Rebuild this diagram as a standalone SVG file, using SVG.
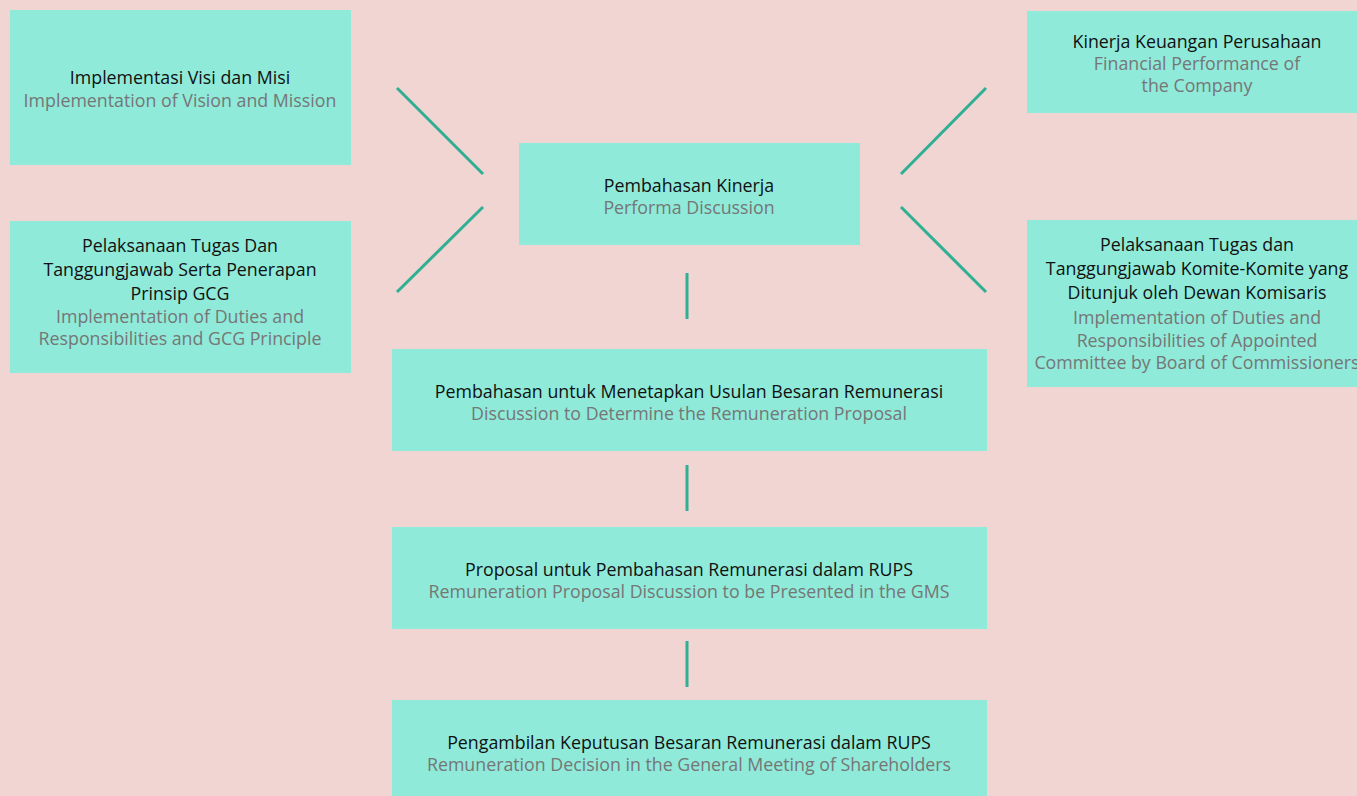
<svg xmlns="http://www.w3.org/2000/svg" width="1357" height="796" viewBox="0 0 1357 796">
<style>
.bx{fill:#8FEAD9}
.t{font-family:"Open Sans",Lato,sans-serif;font-size:17.8px;text-anchor:middle}
.p{fill:#111}
.s{fill:#767676}
.c line{stroke:#2FAF94;stroke-width:3}
</style>
<rect width="1357" height="796" fill="#F0D5D2"/>
<g class="c" id="connectors">
<line x1="397" y1="88" x2="483" y2="174"/>
<line x1="483" y1="207" x2="397" y2="292"/>
<line x1="986" y1="88" x2="901" y2="174"/>
<line x1="901" y1="207" x2="986" y2="292"/>
<line x1="687" y1="273" x2="687" y2="319"/>
<line x1="687" y1="465" x2="687" y2="511"/>
<line x1="687" y1="641" x2="687" y2="687"/>
</g>
<g id="n1"><rect class="bx" x="10" y="10" width="341" height="155"/>
<text class="t p" x="180" y="84">Implementasi Visi dan Misi</text>
<text class="t s" x="180" y="107">Implementation of Vision and Mission</text></g>
<g id="n2"><rect class="bx" x="10" y="221" width="341" height="152"/>
<text class="t p" x="180" y="252">Pelaksanaan Tugas Dan</text>
<text class="t p" x="180" y="276">Tanggungjawab Serta Penerapan</text>
<text class="t p" x="180" y="300">Prinsip GCG</text>
<text class="t s" x="180" y="323">Implementation of Duties and</text>
<text class="t s" x="180" y="345">Responsibilities and GCG Principle</text></g>
<g id="n3"><rect class="bx" x="1027" y="11" width="340" height="102"/>
<text class="t p" x="1197" y="48">Kinerja Keuangan Perusahaan</text>
<text class="t s" x="1197" y="70">Financial Performance of</text>
<text class="t s" x="1197" y="92">the Company</text></g>
<g id="n4"><rect class="bx" x="1027" y="220" width="340" height="167"/>
<text class="t p" x="1197" y="251">Pelaksanaan Tugas dan</text>
<text class="t p" x="1197" y="275">Tanggungjawab Komite-Komite yang</text>
<text class="t p" x="1197" y="299">Ditunjuk oleh Dewan Komisaris</text>
<text class="t s" x="1197" y="324">Implementation of Duties and</text>
<text class="t s" x="1197" y="347">Responsibilities of Appointed</text>
<text class="t s" x="1197" y="369">Committee by Board of Commissioners</text></g>
<g id="n5"><rect class="bx" x="519" y="143" width="341" height="102"/>
<text class="t p" x="689" y="192">Pembahasan Kinerja</text>
<text class="t s" x="689" y="214">Performa Discussion</text></g>
<g id="n6"><rect class="bx" x="392" y="349" width="595" height="102"/>
<text class="t p" x="689" y="398">Pembahasan untuk Menetapkan Usulan Besaran Remunerasi</text>
<text class="t s" x="689" y="420">Discussion to Determine the Remuneration Proposal</text></g>
<g id="n7"><rect class="bx" x="392" y="527" width="595" height="102"/>
<text class="t p" x="689" y="576">Proposal untuk Pembahasan Remunerasi dalam RUPS</text>
<text class="t s" x="689" y="598">Remuneration Proposal Discussion to be Presented in the GMS</text></g>
<g id="n8"><rect class="bx" x="392" y="700" width="595" height="96"/>
<text class="t p" x="689" y="749">Pengambilan Keputusan Besaran Remunerasi dalam RUPS</text>
<text class="t s" x="689" y="771">Remuneration Decision in the General Meeting of Shareholders</text></g>
</svg>
